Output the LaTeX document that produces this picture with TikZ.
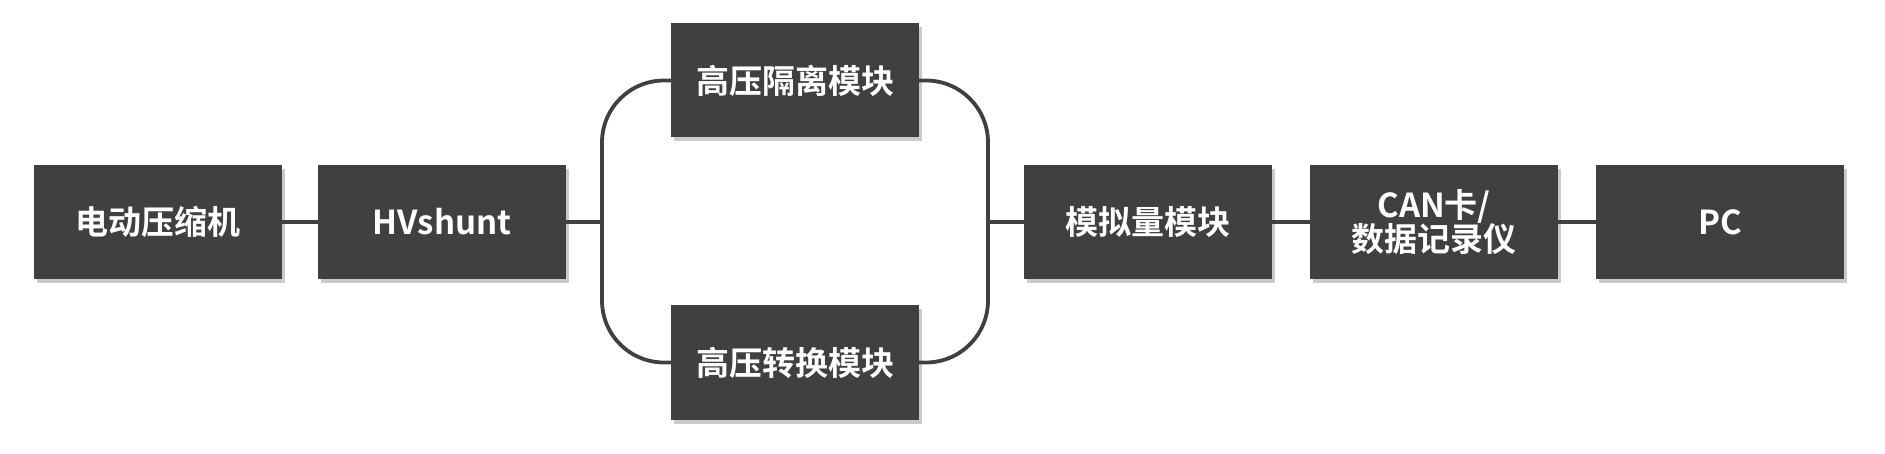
\documentclass[tikz,border=0pt]{standalone}
\usepackage{fontspec}
\setmainfont{Noto Sans CJK SC}[BoldFont={* Bold}]
\usetikzlibrary{shadows}
\definecolor{boxgray}{HTML}{404040}
\definecolor{linegray}{HTML}{404040}
\tikzset{
  blk/.style={draw=none, fill=boxgray, minimum width=248pt, minimum height=114pt,
    inner sep=0pt, text=white, font=\bfseries\fontsize{33}{38}\selectfont, align=center,
    drop shadow={shadow xshift=3pt, shadow yshift=-4pt, opacity=0.35, fill=black!60}},
  conn/.style={draw=linegray, line width=3.8pt}
}
\begin{document}
\begin{tikzpicture}[x=1pt,y=1pt]
\useasboundingbox (0,0) rectangle (1885,-454);
\node[blk] (comp) at (157.5,-222) {电动压缩机};
\node[blk] (hv) at (442,-222) {HVshunt};
\node[blk] (iso) at (795,-80.5) {高压隔离模块};
\node[blk] (conv) at (795,-362.5) {高压转换模块};
\node[blk] (ana) at (1148,-222) {模拟量模块};
\node[blk] (can) at (1434,-222) {CAN卡/\\[-4pt]数据记录仪};
\node[blk] (pc) at (1720,-222) {PC};
\coordinate (L) at (602,-222);
\coordinate (R) at (988,-222);
\draw[conn] (comp.east) -- (hv.west);
\draw[conn] (hv.east) -- (L);
\draw[conn, rounded corners=62pt] (iso.west) -- (L |- iso.west) -- (L |- conv.west) -- (conv.west);
\draw[conn, rounded corners=62pt] (iso.east) -- (R |- iso.east) -- (R |- conv.east) -- (conv.east);
\draw[conn] (R) -- (ana.west);
\draw[conn] (ana.east) -- (can.west);
\draw[conn] (can.east) -- (pc.west);
\end{tikzpicture}
\end{document}
